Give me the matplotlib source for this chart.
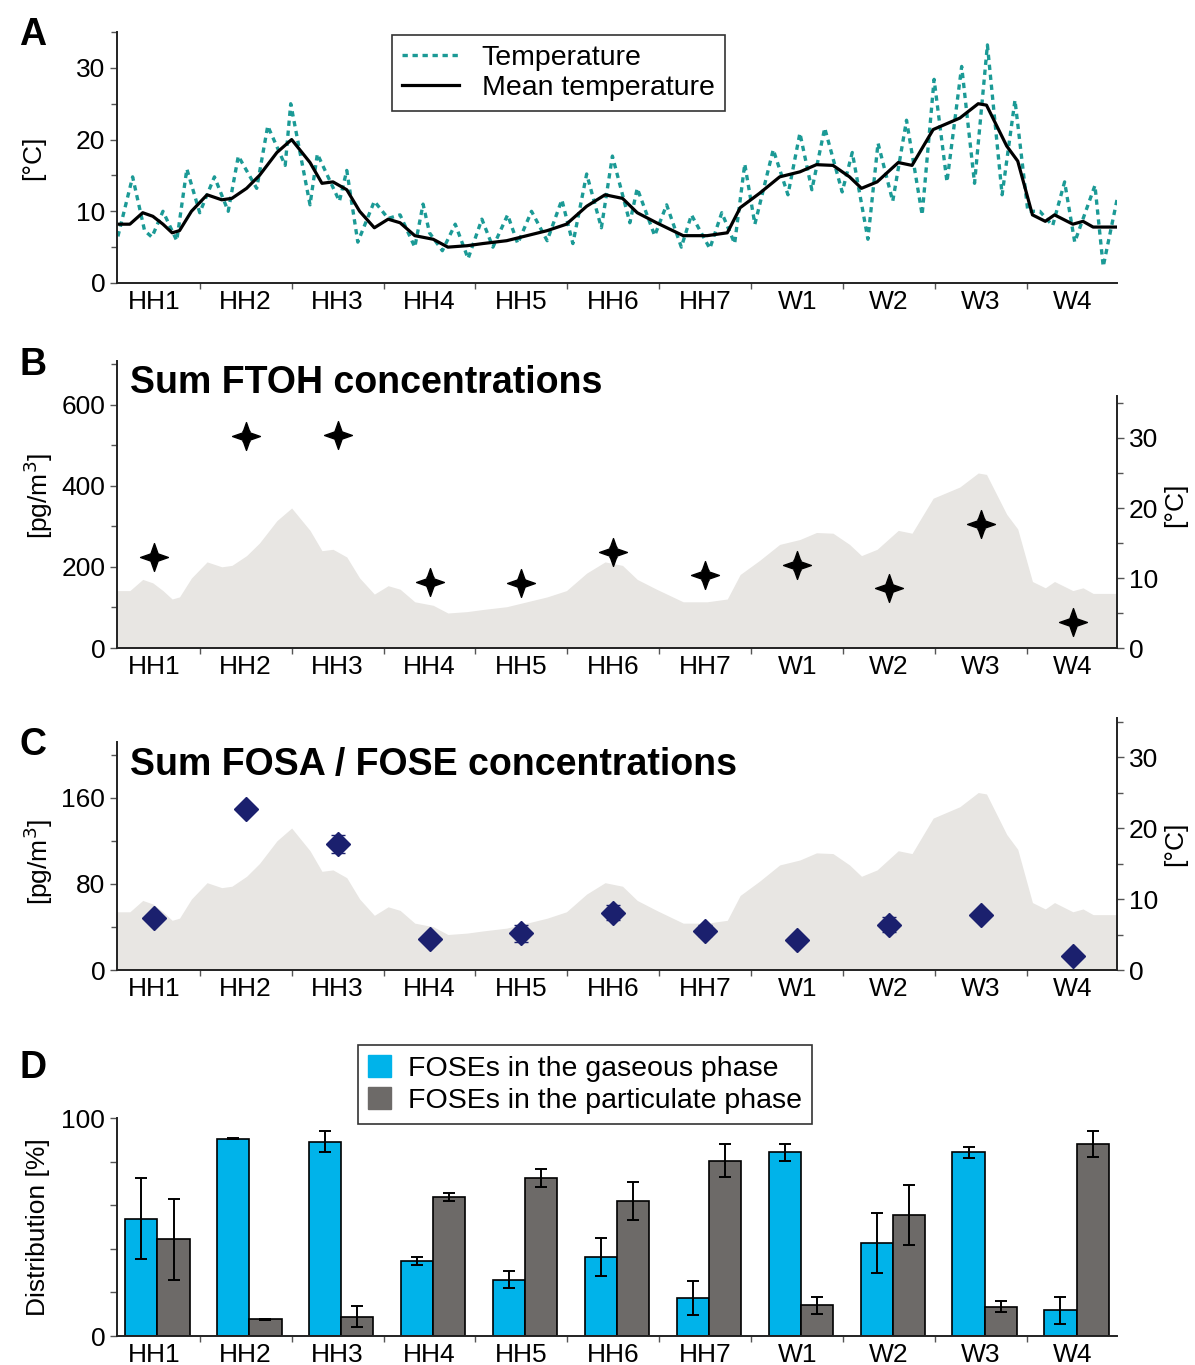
import numpy as np
import matplotlib
matplotlib.use('Agg')
import matplotlib.pyplot as plt
from matplotlib.path import Path
from matplotlib.lines import Line2D
from matplotlib.patches import Patch

plt.rcParams['font.family'] = ['Liberation Sans', 'DejaVu Sans']

# ============================================================
# data
# ============================================================
sites = ['HH1', 'HH2', 'HH3', 'HH4', 'HH5', 'HH6', 'HH7', 'W1', 'W2', 'W3', 'W4']

# temperature trace (x in sampling-period units, HH1 = 0)
temp_t = [-0.39, -0.23, -0.10, -0.02, 0.10, 0.25, 0.36, 0.50, 0.66, 0.81, 0.92, 1.12,
          1.24, 1.43, 1.49, 1.70, 1.78, 2.02, 2.10, 2.22, 2.40, 2.55, 2.68, 2.84,
          2.93, 3.00, 3.14, 3.28, 3.42, 3.57, 3.69, 3.85, 3.96, 4.11, 4.28, 4.44,
          4.56, 4.71, 4.87, 4.99, 5.18, 5.26, 5.45, 5.58, 5.74, 5.85, 6.05, 6.18,
          6.32, 6.43, 6.54, 6.74, 6.90, 7.03, 7.16, 7.30, 7.49, 7.60, 7.77, 7.88,
          8.04, 8.19, 8.36, 8.49, 8.63, 8.79, 8.93, 9.07, 9.23, 9.37, 9.51, 9.64,
          9.78, 9.91, 10.02, 10.24, 10.33, 10.48]
temp_v = [6.5, 14.8, 7.3, 6.4, 10.0, 5.9, 15.9, 9.8, 14.8, 10.0, 17.7, 13.2,
          21.9, 16.4, 25.0, 10.9, 18.0, 11.4, 15.7, 5.7, 11.4, 9.0, 9.5, 5.0,
          11.0, 7.0, 4.5, 8.2, 3.4, 8.9, 5.0, 9.5, 5.5, 10.0, 5.9, 11.6,
          5.5, 15.2, 7.7, 17.7, 8.4, 13.2, 6.6, 10.9, 5.0, 9.5, 4.8, 9.8,
          5.5, 16.6, 8.2, 18.6, 12.3, 20.9, 13.0, 21.6, 12.7, 18.2, 6.1, 19.5,
          11.4, 22.7, 9.5, 28.4, 14.1, 30.2, 13.9, 33.2, 12.3, 25.5, 10.0, 10.0,
          8.0, 14.1, 5.7, 13.6, 2.3, 11.6]

mean_t = [-0.40, -0.26, -0.12, -0.01, 0.10, 0.20, 0.28, 0.41, 0.58, 0.74, 0.85, 1.01,
          1.15, 1.34, 1.50, 1.70, 1.83, 1.95, 2.10, 2.24, 2.40, 2.55, 2.68, 2.84,
          3.04, 3.20, 3.41, 3.58, 3.84, 4.06, 4.28, 4.49, 4.71, 4.91, 5.10, 5.26,
          5.47, 5.76, 6.02, 6.24, 6.38, 6.59, 6.81, 7.03, 7.21, 7.39, 7.57, 7.70,
          7.87, 8.10, 8.25, 8.48, 8.77, 8.97, 9.06, 9.28, 9.40, 9.56, 9.70, 9.80,
          10.00, 10.11, 10.22, 10.48]
mean_v = [8.2, 8.2, 9.8, 9.3, 8.2, 7.0, 7.3, 10.0, 12.3, 11.6, 11.8, 13.2,
          15.0, 18.2, 20.0, 16.8, 13.9, 14.1, 13.0, 10.0, 7.7, 8.9, 8.4, 6.6,
          6.1, 5.0, 5.2, 5.5, 5.9, 6.6, 7.3, 8.2, 10.7, 12.3, 11.8, 9.8,
          8.4, 6.6, 6.6, 7.0, 10.5, 12.5, 14.8, 15.5, 16.5, 16.4, 14.8, 13.2,
          14.1, 16.8, 16.4, 21.4, 23.0, 25.0, 24.8, 19.1, 17.0, 9.5, 8.6, 9.5,
          8.2, 8.6, 7.8, 7.8]

# panel B: sum FTOH [pg/m3]
ftoh = [225, 523, 526, 164, 161, 237, 180, 205, 148, 306, 65]
ftoh_err = [8, 12, 8, 12, 8, 12, 12, 12, 8, 12, 6]

# panel C: sum FOSA / FOSE [pg/m3]
fosa = [48.7, 149.5, 117.0, 28.8, 34.0, 53.3, 36.6, 28.0, 42.0, 51.0, 13.0]
fosa_err = [2, 2, 8, 2, 8, 7, 5, 2, 7, 2, 1]

# panel D: distribution [%]
gas = [53.8, 90.5, 89.2, 34.3, 25.8, 36.1, 17.4, 84.3, 42.8, 84.3, 11.7]
gas_err = [18.6, 0.3, 5.0, 1.8, 4.0, 8.8, 7.7, 3.8, 13.7, 2.5, 6.1]
part = [44.3, 7.7, 8.9, 63.8, 72.5, 62.0, 80.4, 14.0, 55.5, 13.5, 88.1]
part_err = [18.6, 0.3, 4.8, 1.8, 4.2, 8.8, 7.5, 3.8, 13.8, 2.7, 6.1]

# ============================================================
# style
# ============================================================
teal = '#1b9a96'
fill_grey = '#e8e6e3'
navy = '#1b206e'
bar_blue = '#00b3ea'
bar_grey = '#6d6a68'
spine_c = '#222222'
FS = 19
LFS = 20.5

x = np.arange(len(sites))

w = 0.26
star = Path([(0, 1), (w, w), (1, 0), (w, -w), (0, -1), (-w, -w), (-1, 0), (-w, w), (0, 1)],
            [Path.MOVETO] + [Path.LINETO] * 7 + [Path.CLOSEPOLY])


def setup_x(ax):
    ax.set_xlim(-0.4, 10.48)
    ax.set_xticks(x)
    ax.set_xticklabels(sites)
    ax.set_xticks(x[:-1] + 0.5, minor=True)
    ax.tick_params(axis='x', which='major', length=0, pad=5, labelsize=FS)
    ax.tick_params(axis='x', which='minor', length=4, width=1, color='#555')
    for s in ['top', 'right']:
        ax.spines[s].set_visible(False)
    for s in ['left', 'bottom']:
        ax.spines[s].set_linewidth(1.4)
        ax.spines[s].set_color(spine_c)
    ax.tick_params(axis='y', which='both', labelsize=FS, width=1, color='#555')
    ax.tick_params(axis='y', which='major', length=5)
    ax.tick_params(axis='y', which='minor', length=4)


def setup_twin(axt, top, bound):
    axt.set_ylim(0, top)
    axt.spines['right'].set_bounds(0, bound)
    axt.spines['right'].set_linewidth(1.4)
    axt.spines['right'].set_color(spine_c)
    for s in ['top', 'left', 'bottom']:
        axt.spines[s].set_visible(False)
    axt.set_yticks([0, 10, 20, 30])
    axt.set_yticks([5, 15, 25, 35], minor=True)
    axt.tick_params(axis='y', which='both', labelsize=FS, width=1, color='#555')
    axt.tick_params(axis='y', which='major', length=5)
    axt.tick_params(axis='y', which='minor', length=4)
    axt.set_ylabel('[°C]', fontsize=FS)
    axt.yaxis.set_label_coords(1.046, 0.5)


fig = plt.figure(figsize=(11.95, 13.65), dpi=100)
L, W = 117 / 1195, 1000 / 1195

# ============================================================
# A: temperature
# ============================================================
axA = fig.add_axes([L, 1 - 283 / 1365, W, 251 / 1365])
axA.plot(temp_t, temp_v, color=teal, lw=2.4, ls=(0, (1.6, 1.4)))
axA.plot(mean_t, mean_v, color='k', lw=2.3)
setup_x(axA)
axA.set_ylim(0, 35)
axA.set_yticks([0, 10, 20, 30])
axA.set_yticks([5, 15, 25, 35], minor=True)
axA.set_ylabel('[°C]', fontsize=FS)
axA.yaxis.set_label_coords(-0.072, 0.5)
handles = [Line2D([], [], color=teal, lw=2.4, ls=(0, (1.6, 1.4))),
           Line2D([], [], color='k', lw=2.3)]
legA = axA.legend(handles, ['Temperature', 'Mean temperature'], loc='upper left',
                  bbox_to_anchor=(392 / 1195, 1 - 35 / 1365), bbox_transform=fig.transFigure,
                  borderaxespad=0, fancybox=False, framealpha=1, edgecolor='#333',
                  fontsize=LFS, handlelength=2.0, borderpad=0.35, labelspacing=0.15)
legA.get_frame().set_linewidth(1.2)

# ============================================================
# B: FTOH
# ============================================================
axB = fig.add_axes([L, 1 - 648 / 1365, W, 287 / 1365])
axBt = axB.twinx()
axBt.fill_between(mean_t, mean_v, 0, color=fill_grey, lw=0)
setup_twin(axBt, 41, 36)
axB.set_zorder(axBt.get_zorder() + 1)
axB.patch.set_visible(False)
axB.errorbar(x, ftoh, yerr=ftoh_err, fmt='none', ecolor='k', elinewidth=1.5, capsize=3)
axB.plot(x, ftoh, ls='none', marker=star, ms=20, color='k')
setup_x(axB)
axB.set_ylim(0, 708)
axB.set_yticks([0, 200, 400, 600])
axB.set_yticks([100, 300, 500, 700], minor=True)
axB.set_ylabel('[pg/m$^3$]', fontsize=FS)
axB.yaxis.set_label_coords(-0.062, 0.53)

# ============================================================
# C: FOSA / FOSE
# ============================================================
axC = fig.add_axes([L, 1 - 970 / 1365, W, 252 / 1365])
axCt = axC.twinx()
axCt.fill_between(mean_t, mean_v, 0, color=fill_grey, lw=0)
setup_twin(axCt, 35.5, 35.5)
axC.set_zorder(axCt.get_zorder() + 1)
axC.patch.set_visible(False)
axC.errorbar(x, fosa, yerr=fosa_err, fmt='none', ecolor=navy, elinewidth=1.5, capsize=5)
axC.plot(x, fosa, ls='none', marker='D', ms=12, color=navy)
setup_x(axC)
axC.set_ylim(0, 234)
axC.spines['left'].set_bounds(0, 212)
axC.set_yticks([0, 80, 160])
axC.set_yticks([40, 120, 200], minor=True)
axC.set_ylabel('[pg/m$^3$]', fontsize=FS)
axC.yaxis.set_label_coords(-0.062, 0.43)

# ============================================================
# D: distribution
# ============================================================
axD = fig.add_axes([L, 1 - 1336 / 1365, W, 218 / 1365])
bw = 0.35
axD.bar(x + 0.04 - bw / 2, gas, bw, yerr=gas_err, color=bar_blue, edgecolor='k', lw=1.2,
        error_kw=dict(elinewidth=1.4, capsize=4, capthick=1.4))
axD.bar(x + 0.04 + bw / 2, part, bw, yerr=part_err, color=bar_grey, edgecolor='k', lw=1.2,
        error_kw=dict(elinewidth=1.4, capsize=4, capthick=1.4))
setup_x(axD)
axD.set_ylim(0, 100)
axD.set_yticks([0, 20, 40, 60, 80, 100])
axD.set_yticklabels(['0', '', '', '', '', '100'])
axD.set_ylabel('Distribution [%]', fontsize=FS)
axD.yaxis.set_label_coords(-0.067, 0.5)
legD = axD.legend([Patch(color=bar_blue), Patch(color=bar_grey)],
                  ['FOSEs in the gaseous phase', 'FOSEs in the particulate phase'],
                  loc='upper left', bbox_to_anchor=(358 / 1195, 1 - 1045 / 1365),
                  bbox_transform=fig.transFigure, borderaxespad=0, fancybox=False,
                  framealpha=1, edgecolor='#333', fontsize=LFS, handlelength=0.8,
                  handleheight=0.8, borderpad=0.35, labelspacing=0.2, handletextpad=0.6)
legD.get_frame().set_linewidth(1.2)

# ============================================================
# panel letters / titles
# ============================================================
for letter, yy in [('A', 35), ('B', 365), ('C', 745), ('D', 1068)]:
    fig.text(33 / 1195, 1 - yy / 1365, letter, fontsize=27, fontweight='bold',
             ha='center', va='center')
fig.text(130 / 1195, 1 - 383 / 1365, 'Sum FTOH concentrations', fontsize=27,
         fontweight='bold', va='center')
fig.text(130 / 1195, 1 - 765 / 1365, 'Sum FOSA / FOSE concentrations', fontsize=27,
         fontweight='bold', va='center')

fig.savefig('out.png', dpi=100)
